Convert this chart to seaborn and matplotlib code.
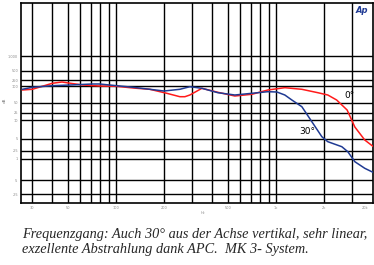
import numpy as np
import pandas as pd
import matplotlib
matplotlib.use("Agg")
import matplotlib.pyplot as plt
import seaborn as sns

# ---- data ----
freq_0 = [26, 30, 40, 46, 52, 62, 79, 101, 128, 163, 208, 251, 270, 290, 345, 434,
          554, 708, 891, 1138, 1454, 1830, 2113, 2400, 2790, 3118, 3597, 4098]
db_0 = [-2.0, -1.65, 1.35, 2.0, 1.35, 0.5, 0.0, -0.15, -1.0, -1.65, -3.65, -5.35, -5.35,
        -4.5, -1.15, -3.15, -5.0, -4.15, -2.0, -0.85, -1.65, -3.35, -4.5, -7.0, -12.0,
        -20.5, -27.0, -30.5]
freq_30 = [26, 30, 40, 52, 71, 79, 101, 128, 163, 200, 251, 290, 345, 434, 554, 708,
           891, 1015, 1138, 1259, 1454, 1679, 1939, 2113, 2585, 2818, 3118, 3597, 4098]
db_30 = [-1.65, -0.65, 0.15, 0.5, 1.0, 1.0, 0.15, -0.65, -1.65, -2.5, -1.65, -0.35,
         -1.15, -3.35, -4.5, -3.65, -2.85, -3.0, -4.5, -7.0, -10.35, -17.85, -25.35,
         -27.85, -30.35, -32.85, -37.85, -41.15, -43.35]
series_names = ["0°", "30°"]

x_grid = [30, 40, 50, 60, 70, 80, 90, 100, 200, 300, 400, 500, 600, 700, 800, 900,
          1000, 2000, 3000]
x_tick_pos = [30, 50, 100, 200, 500, 1000, 2000, 3600]
x_tick_labels = ["30", "50", "100", "200", "500", "1k", "2k", "20k"]
y_grid = [15, 7.5, 3, 0, -8.5, -13.5, -17, -26.5, -32.5, -36.5, -47, -54]
y_tick_labels = ["1.000", "500", "250", "100", "50", "25", "10", "5", "2.5", "1", ".5", ".25"]

caption_1 = "Frequenzgang: Auch 30° aus der Achse vertikal, sehr linear,"
caption_2 = "exzellente Abstrahlung dank APC.  MK 3- System."

df = pd.concat([
    pd.DataFrame({"f": freq_0, "dB": db_0, "angle": series_names[0]}),
    pd.DataFrame({"f": freq_30, "dB": db_30, "angle": series_names[1]}),
])

sns.set_style("white")
W, H = 374, 265
fig = plt.figure(figsize=(W / 100, H / 100), dpi=100)
ax = fig.add_axes([21 / W, 1 - 203 / H, (373 - 21) / W, (203 - 3) / H])

for xv in x_grid:
    ax.axvline(xv, color="black", lw=1.0, zorder=1)
for yv in y_grid:
    ax.axhline(yv, color="black", lw=1.0, zorder=1)

sns.lineplot(data=df, x="f", y="dB", hue="angle", palette=["#ff1a1a", "#1f3a93"],
             ax=ax, legend=False, lw=1.1, zorder=3, sort=False, estimator=None)

ax.set_xscale("log")
ax.set_xlim(25.5, 4050)
ax.set_ylim(-58.5, 41.5)

ax.set_xticks(x_tick_pos)
ax.set_xticklabels(x_tick_labels, fontsize=2.5, color="#888888")
ax.xaxis.set_minor_locator(matplotlib.ticker.NullLocator())
ax.set_yticks(y_grid)
ax.set_yticklabels(y_tick_labels, fontsize=2.5, color="#888888")
minor_y = []
for a, b in zip(y_grid[:-1], y_grid[1:]):
    minor_y += list(np.linspace(a, b, 5)[1:-1])
minor_y += [29]
ax.set_yticks(minor_y, minor=True)
ax.tick_params(axis="both", which="major", length=0, pad=2)
ax.tick_params(axis="y", which="minor", direction="in", length=3, width=1.0, color="black")
ax.tick_params(axis="x", which="minor", length=0)
ax.set_xlabel("")
ax.set_ylabel("")
fig.text(5 / W, 1 - 100 / H, "dB", fontsize=3, color="#888888", rotation=90,
         ha="center", va="center")
ax.text(193 / W, -0.04, "Hz", transform=ax.transAxes, fontsize=2.5, color="#888888",
        ha="center", va="top")

for s in ax.spines.values():
    s.set_color("black")
    s.set_linewidth(1.2)

ax.text(2700, -5.0, series_names[0], fontsize=6.5, color="black", ha="left", va="center",
        fontfamily="DejaVu Sans", zorder=4)
ax.text(1400, -22.5, series_names[1], fontsize=6.5, color="black", ha="left", va="center",
        fontfamily="DejaVu Sans", zorder=4)
ax.text(0.985, 0.985, "Ap", transform=ax.transAxes, fontsize=6, color="#1f3a93",
        style="italic", weight="bold", ha="right", va="top")

fig.text(22 / W, 1 - 238 / H, caption_1, fontsize=10.3, fontfamily="Liberation Serif",
         style="italic", ha="left", va="baseline")
fig.text(22 / W, 1 - 253 / H, caption_2, fontsize=10.3, fontfamily="Liberation Serif",
         style="italic", ha="left", va="baseline")

fig.savefig("out.png", dpi=100)
